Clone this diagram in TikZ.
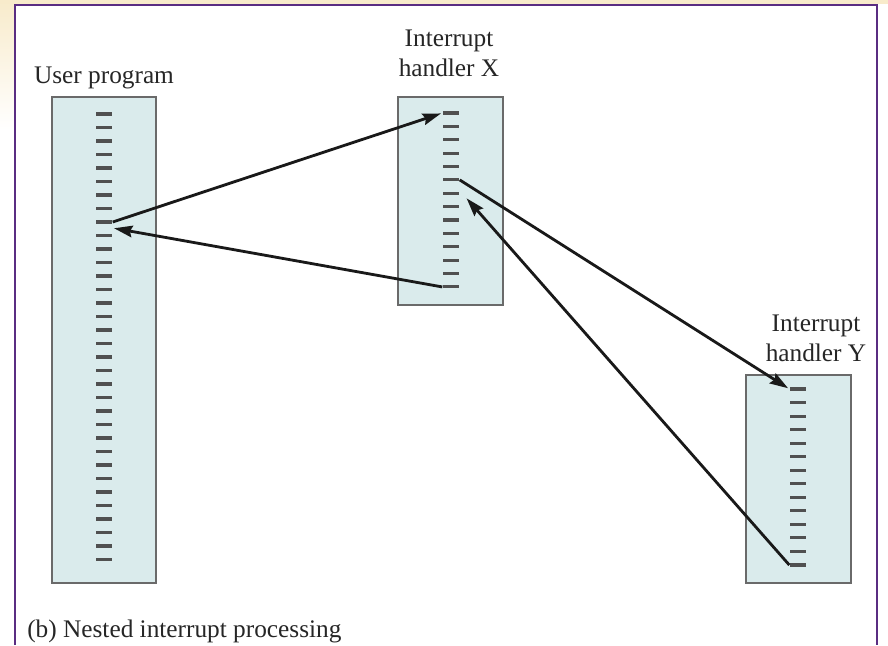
\documentclass[tikz,border=0pt]{standalone}
\usepackage{fontspec}
\setmainfont{Liberation Serif}
\usetikzlibrary{arrows.meta}
\definecolor{boxfill}{HTML}{DAEBEC}
\definecolor{boxline}{HTML}{6A6A6A}
\definecolor{linegray}{HTML}{505050}
\definecolor{framecol}{HTML}{5A2D82}
\definecolor{sand}{HTML}{F8EBCB}

\begin{document}
\begin{tikzpicture}[x=0.025cm,y=-0.025cm,>={Stealth[length=4.6mm,width=2.9mm,inset=0.6mm]}]
\tikzstyle{every node}=[font=\fontsize{18}{21.3}\selectfont,text=black!85]
\tikzstyle{prog}=[rectangle,draw=boxline,line width=1.4pt,fill=boxfill,inner sep=0pt]
\tikzstyle{codeline}=[rectangle,fill=linegray,inner sep=0pt,minimum width=0.42cm,minimum height=2.2pt]
\tikzstyle{flow}=[->,line width=2pt,black!90,shorten >=1pt]
\useasboundingbox (0,0) rectangle (888,645);
\fill[white] (0,0) rectangle (888,645);
\shade[top color=sand,bottom color=white] (0,0) rectangle (15,130);
\fill[sand] (0,0) rectangle (888,4);
\draw[framecol,line width=1.6pt] (15,645) -- (15,5) -- (877,5) -- (877,645);

\node[prog,minimum width=2.6cm,minimum height=12.15cm](U) at (104,340) {};
\node[prog,minimum width=2.625cm,minimum height=5.2cm](X) at (450.5,201) {};
\node[prog,minimum width=2.625cm,minimum height=5.2cm](Y) at (798.5,479) {};

\foreach \i in {1,...,34} \node[codeline](u\i) at (104,{114+(\i-1)*13.5}) {};
\foreach \i in {1,...,14} \node[codeline](x\i) at (451,{113+(\i-1)*13.38}) {};
\foreach \i in {1,...,14} \node[codeline](y\i) at (798,{389+(\i-1)*13.54}) {};

\node[anchor=base](Ulabel) at (104,83) {User program};
\node[anchor=north,align=center,inner sep=0pt](Xlabel) at (449,30) {Interrupt\\handler X};
\node[anchor=north,align=center,inner sep=0pt](Ylabel) at (816,315) {Interrupt\\handler Y};
\node[anchor=base west,inner sep=0pt](caption) at (27,637) {(b) Nested interrupt processing};

\draw[flow] (u9.east) -- (x1.west);
\draw[flow] (x14.west) -- ([yshift=-0.15cm]u9.east);
\draw[flow] (x6.east) -- (y1.west);
\draw[flow] (y14.west) -- ([shift={(0.15cm,-0.1cm)}]x7.east);
\end{tikzpicture}
\end{document}
